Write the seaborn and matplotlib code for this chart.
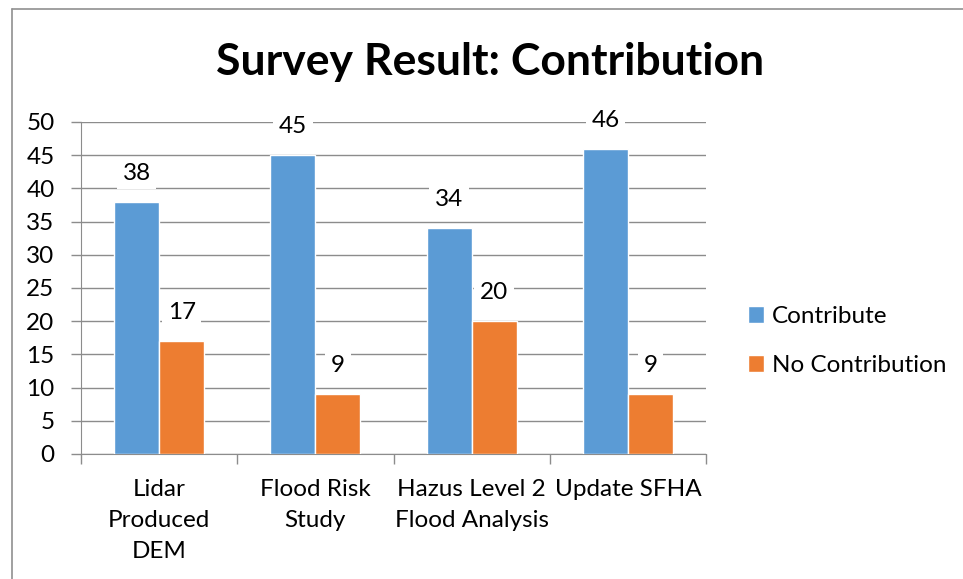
import matplotlib
matplotlib.use("Agg")
import matplotlib.pyplot as plt
from matplotlib.lines import Line2D
import seaborn as sns
import pandas as pd

# chart data
categories = ["Lidar\nProduced\nDEM", "Flood Risk\nStudy", "Hazus Level 2\nFlood Analysis", "Update SFHA"]
series_names = ["Contribute", "No Contribution"]
contribute = [38, 45, 34, 46]
no_contribution = [17, 9, 20, 9]
y_ticks = [0, 5, 10, 15, 20, 25, 30, 35, 40, 45, 50]

df = pd.DataFrame({
    "Category": categories * 2,
    "Series": [series_names[0]] * 4 + [series_names[1]] * 4,
    "Value": contribute + no_contribution,
})

sns.set_style("white")
plt.rcParams["font.family"] = ["Lato", "DejaVu Sans"]
plt.rcParams["text.color"] = "black"
plt.rcParams["xtick.color"] = "black"
plt.rcParams["ytick.color"] = "black"

fig = plt.figure(figsize=(9.63, 5.79), dpi=100)
ax = fig.add_axes([81 / 963, 1 - 454 / 579, (706 - 81) / 963, (454 - 122) / 579])

grid_col = "#8c8c8c"
fs = 17.5
sns.barplot(data=df, x="Category", y="Value", hue="Series", order=categories,
            hue_order=series_names, palette=["#5B9BD5", "#ED7D31"],
            width=0.577, gap=0, saturation=1, ax=ax, zorder=3, legend=True)

for cont in ax.containers:
    ax.bar_label(cont, padding=13, fontsize=fs, color="black",
                 bbox=dict(facecolor="white", edgecolor="none", pad=4), zorder=4)

ax.set_ylim(0, 50)
ax.set_xlim(-0.5, 3.5)
ax.set_yticks(y_ticks)
ax.yaxis.grid(True, color=grid_col, linewidth=1)
ax.set_axisbelow(True)
ax.tick_params(axis="y", length=7, width=1, color=grid_col, labelcolor="black",
               labelsize=fs, pad=12, left=True)
ax.set_xticks(range(4))
ax.set_xticklabels(categories, fontsize=fs, linespacing=1.6, va="top")
ax.tick_params(axis="x", length=0, pad=18, labelcolor="black")
ax.set_xticks([-0.5, 0.5, 1.5, 2.5, 3.5], minor=True)
ax.tick_params(axis="x", which="minor", length=7, width=1, color=grid_col, bottom=True)
ax.set_xlabel("")
ax.set_ylabel("")
for s in ["top", "right"]:
    ax.spines[s].set_visible(False)
ax.spines["left"].set_color(grid_col)
ax.spines["bottom"].set_color(grid_col)

handles, labels = ax.get_legend_handles_labels()
ax.legend(handles, labels, loc="center left", bbox_to_anchor=(1.032, 0.34), frameon=False,
          fontsize=fs, handlelength=0.65, handleheight=0.65, handletextpad=0.35,
          labelspacing=1.15)

fig.text(0.509, 1 - 62 / 579, "Survey Result: Contribution", ha="center", va="center",
         fontsize=32, fontweight="bold", color="black")

border = "#909090"
fig.add_artist(Line2D([12 / 963, 1], [1 - 9 / 579, 1 - 9 / 579], color=border, linewidth=1.2))
fig.add_artist(Line2D([12 / 963, 12 / 963], [0, 1 - 9 / 579], color=border, linewidth=1.2))

fig.savefig("out.png", dpi=100, facecolor="white")
